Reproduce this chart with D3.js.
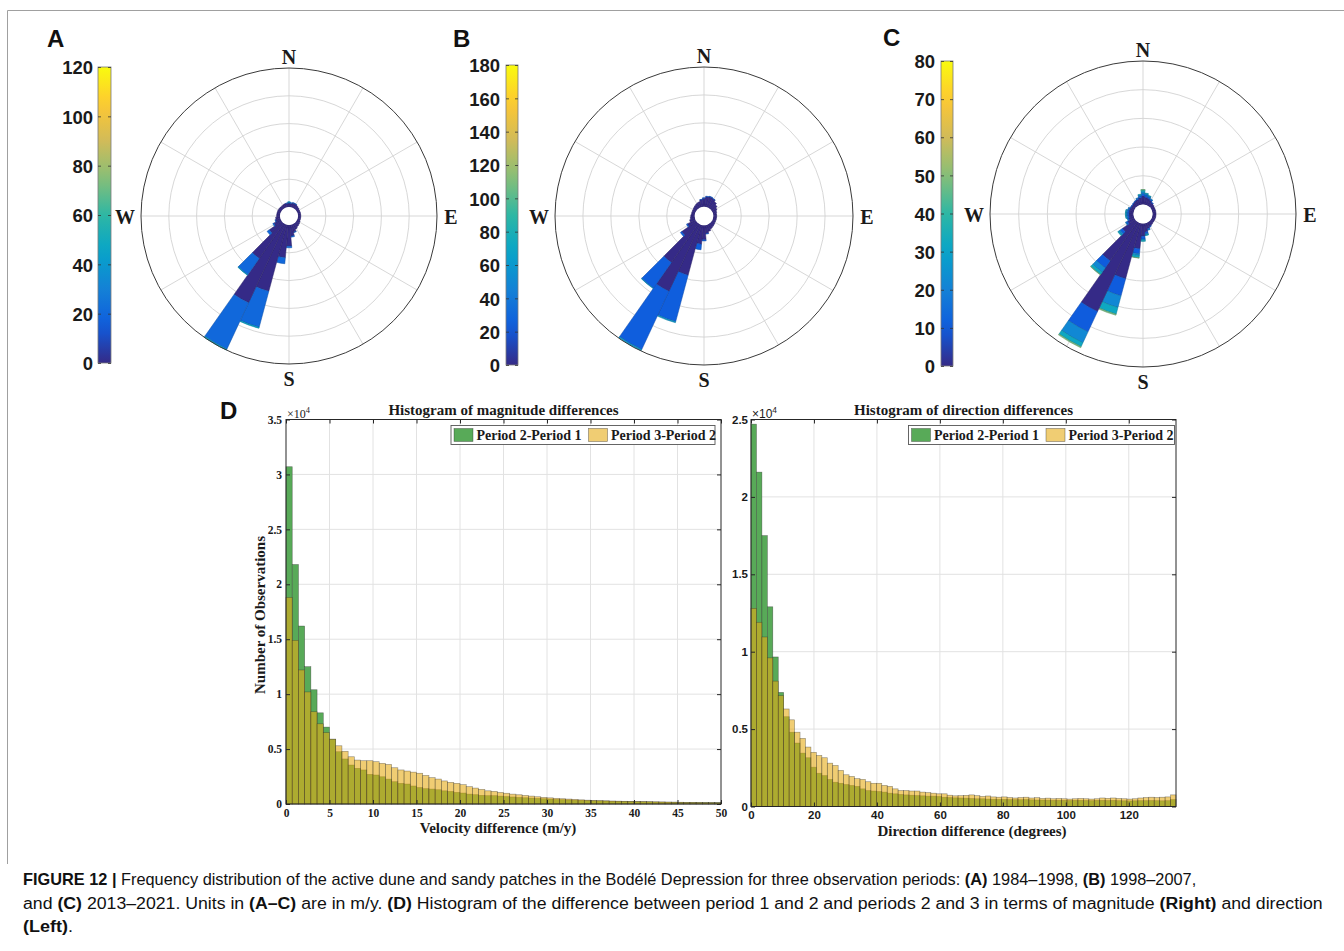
<!DOCTYPE html>
<html><head><meta charset="utf-8">
<script src="https://cdn.jsdelivr.net/npm/d3@7"></script>
<style>body{margin:0;background:#fff}svg{display:block}</style>
</head><body>
<svg id="fig" width="1344" height="951"></svg>
<script>
// ---------------- DATA ----------------
const directions = [0,10,20,30,40,50,60,70,80,90,100,110,120,130,140,150,160,170,180,190,200,210,220,230,240,250,260,270,280,290,300,310,320,330,340,350];
const spokeAngles = [0,30,60,90,120,150,180,210,240,270,300,330];
const ringValues = [5,10,15,20];

// rose A (1984–1998): stacked frequency per speed class
const roseA_navy = [0.7,0.7,0.8,0.8,0.7,0.6,0.5,0.5,0.5,0.5,0.5,0.5,0.6,0.7,0.8,1.0,1.4,2.0,3.8,5.9,12.4,15.6,7.7,2.7,1.4,0.9,0.8,0.6,0.6,0.6,0.6,0.6,0.6,0.6,0.7,0.7];
const roseA_blue = [0.15,0.1,0.1,0.05,0,0,0,0,0,0,0,0,0,0,0,0,0.1,0.2,0.3,1.1,6.7,9.2,3.6,0.5,0.2,0.1,0,0,0,0,0,0,0,0,0,0.05];
const roseA_teal = [0.1,0,0,0,0,0,0,0,0,0,0,0,0,0,0,0,0,0,0,0,0.2,0.2,0.1,0,0,0,0,0,0,0,0,0,0,0,0,0];
const speedA = [0,20,45];
const cbTicksA = [0,20,40,60,80,100,120];

// rose B (1998–2007)
const roseB_navy = [1.5,1.8,1.9,1.8,1.5,1.2,0.9,0.7,0.6,0.6,0.6,0.6,0.6,0.7,0.8,0.9,1.2,1.5,2.6,3.4,9.3,13.2,8.5,3.2,1.6,1.0,0.8,0.7,0.6,0.6,0.6,0.7,0.8,0.9,1.0,1.3];
const roseB_blue = [0.1,0.1,0.1,0.05,0,0,0,0,0,0,0,0,0,0,0,0,0,0.1,0.2,1.0,8.6,11.5,5.6,0.3,0.2,0,0,0,0,0,0,0,0,0,0,0.05];
const roseB_teal = [0,0,0,0,0,0,0,0,0,0,0,0,0,0,0,0,0,0,0,0,0.2,0.25,0.1,0,0,0,0,0,0,0,0,0,0,0,0,0];
const speedB = [0,24,60];
const cbTicksB = [0,20,40,60,80,100,120,140,160,180];

// rose C (2013–2021)
const roseC_navy = [1.5,1.3,1.2,1.0,0.8,0.7,0.6,0.6,0.6,0.6,0.6,0.6,0.6,0.6,0.7,0.8,1.0,1.5,2.2,4.4,10.0,17.1,8.3,2.7,1.3,0.9,0.8,0.8,0.8,0.8,0.7,0.7,0.8,0.9,1.0,1.2];
const roseC_blue = [0.4,0.4,0.3,0.2,0.1,0,0,0,0,0,0,0,0,0,0,0.1,0.2,0.3,0.5,0.9,3.1,3.9,1.5,0.5,0.3,0.2,0.3,0.3,0.3,0.2,0.1,0.1,0.1,0.1,0.2,0.3];
const roseC_lblue = [0.3,0.2,0.1,0.1,0,0,0,0,0,0,0,0,0,0,0,0,0.1,0.2,0.2,0.3,2.1,2.1,0.9,0.3,0.1,0.1,0.2,0.2,0.2,0.1,0,0,0,0,0.1,0.2];
const roseC_teal = [0.3,0.1,0.1,0,0,0,0,0,0,0,0,0,0,0,0,0,0,0.1,0.2,0.4,1.2,0.75,0.5,0.2,0,0,0.1,0.1,0.1,0,0,0,0,0,0,0.1];
const roseC_green = [0.1,0,0,0,0,0,0,0,0,0,0,0,0,0,0,0,0,0,0,0.05,0.2,0.2,0.1,0,0,0,0,0,0,0,0,0,0,0,0,0];
const speedC = [0,10,22,32,48];
const cbTicksC = [0,10,20,30,40,50,60,70,80];

// histogram of magnitude differences (x10^4 observations), 70 bins over 0–50 m/y
const magP21 = [3.07,2.18,1.62,1.25,1.04,0.83,0.70,0.59,0.476,0.41,0.355,0.325,0.31,0.27,0.264,0.248,0.227,0.203,0.188,0.182,0.164,0.15,0.14,0.136,0.13,0.12,0.115,0.106,0.10,0.09,0.085,0.079,0.076,0.076,0.072,0.068,0.064,0.06,0.057,0.054,0.051,0.048,0.045,0.042,0.04,0.037,0.035,0.033,0.031,0.029,0.028,0.027,0.025,0.024,0.023,0.022,0.021,0.02,0.019,0.018,0.017,0.016,0.016,0.015,0.014,0.014,0.013,0.013,0.012,0.012];
const magP32 = [1.88,1.49,1.22,1.02,0.84,0.73,0.65,0.59,0.53,0.48,0.43,0.40,0.394,0.394,0.385,0.37,0.36,0.33,0.31,0.30,0.29,0.28,0.26,0.24,0.227,0.21,0.197,0.188,0.176,0.158,0.145,0.133,0.12,0.115,0.105,0.098,0.09,0.084,0.078,0.072,0.066,0.06,0.056,0.052,0.048,0.045,0.042,0.038,0.035,0.033,0.031,0.029,0.027,0.026,0.025,0.024,0.023,0.022,0.021,0.02,0.019,0.018,0.017,0.016,0.015,0.015,0.014,0.013,0.013,0.012];
const magXTicks = [0,5,10,15,20,25,30,35,40,45,50];
const magYTicks = [0,0.5,1,1.5,2,2.5,3,3.5];

// histogram of direction differences (x10^4 observations), 78 bins over 0–135 degrees
const dirP21 = [2.47,2.16,1.75,1.29,0.966,0.737,0.58,0.48,0.41,0.345,0.315,0.254,0.215,0.20,0.175,0.157,0.15,0.142,0.136,0.13,0.114,0.103,0.10,0.097,0.093,0.086,0.082,0.078,0.075,0.073,0.071,0.069,0.067,0.067,0.065,0.06,0.058,0.056,0.055,0.054,0.052,0.05,0.05,0.048,0.047,0.046,0.046,0.045,0.044,0.044,0.045,0.043,0.042,0.042,0.041,0.04,0.04,0.04,0.039,0.04,0.04,0.039,0.038,0.04,0.04,0.039,0.04,0.038,0.037,0.036,0.037,0.038,0.038,0.039,0.038,0.037,0.038,0.045];
const dirP32 = [1.28,1.19,1.095,0.96,0.81,0.716,0.63,0.56,0.48,0.44,0.384,0.35,0.33,0.315,0.28,0.265,0.233,0.205,0.194,0.18,0.175,0.16,0.15,0.15,0.136,0.13,0.114,0.103,0.103,0.10,0.10,0.093,0.09,0.086,0.082,0.082,0.073,0.069,0.07,0.072,0.075,0.07,0.065,0.068,0.062,0.06,0.062,0.058,0.055,0.058,0.06,0.055,0.057,0.052,0.054,0.05,0.052,0.05,0.048,0.05,0.052,0.05,0.048,0.05,0.055,0.053,0.055,0.052,0.05,0.048,0.05,0.055,0.058,0.06,0.058,0.06,0.062,0.075];
const dirXTicks = [0,20,40,60,80,100,120];
const dirYTicks = [0,0.5,1,1.5,2,2.5];

const legendLabels = ["Period 2-Period 1","Period 3-Period 2"];

// ---------------- STYLE ----------------
const SERIF = "'Liberation Serif','Times New Roman',Times,serif";
const SANS = "'Liberation Sans',Arial,Helvetica,sans-serif";
const INK = "#1a1a1a";
const GREEN = "#58aa58";
const YELLOW = "#e6ac16";
const YEL_OP = 0.6;
const EDGE = "#2a2a2a";
const parulaStops = ["#352a87","#0f5cdd","#1481d6","#06a4ca","#2eb7a4","#87bf77","#d1bb59","#fec832","#f9fb0e"];
const parula = d3.piecewise(d3.interpolateRgb, parulaStops);

const svg = d3.select("#fig");
const defs = svg.append("defs");

// figure frame
svg.append("path").attr("d","M1344,10.5H7.5V864").attr("fill","none").attr("stroke","#a0a0a0").attr("stroke-width",1);

// ---------------- ROSES ----------------
function drawRose(p){
  const g = svg.append("g").attr("transform",`translate(${p.cx},${p.cy})`);
  const r = d3.scaleLinear().domain([0,25]).range([p.r0,p.R]);
  g.selectAll("circle.ring").data(ringValues).join("circle").attr("class","ring")
    .attr("r",d=>r(d)).attr("fill","none").attr("stroke","#d2d2d2").attr("stroke-width",0.9);
  g.selectAll("line.spoke").data(spokeAngles).join("line").attr("class","spoke")
    .attr("x1",d=>p.r0*Math.sin(d*Math.PI/180)).attr("y1",d=>-p.r0*Math.cos(d*Math.PI/180))
    .attr("x2",d=>p.R*Math.sin(d*Math.PI/180)).attr("y2",d=>-p.R*Math.cos(d*Math.PI/180))
    .attr("stroke","#d2d2d2").attr("stroke-width",0.9);
  const color = d3.scaleSequential(parula).domain([0,p.max]);
  const arc = d3.arc();
  directions.forEach((dir,i)=>{
    let cum = 0;
    p.classes.forEach((arr,k)=>{
      const v = arr[i];
      if(!v) return;
      const c = color(p.speeds[k]);
      g.append("path").attr("d",arc({innerRadius:r(cum),outerRadius:r(cum+v),
          startAngle:(dir-5)*Math.PI/180,endAngle:(dir+5)*Math.PI/180}))
        .attr("fill",c).attr("stroke",d3.color(c).darker(0.8)).attr("stroke-width",0.5);
      cum += v;
    });
  });
  g.append("circle").attr("r",p.r0).attr("fill","#fff");
  g.append("circle").attr("r",p.R).attr("fill","none").attr("stroke","#3a3a3a").attr("stroke-width",1);
  const lab = (t,x,y)=>g.append("text").text(t).attr("x",x).attr("y",y).attr("text-anchor","middle")
      .attr("font-family",SERIF).attr("font-weight","bold").attr("font-size",20).attr("fill",INK);
  lab("N",0,-p.R-4); lab("S",0,p.R+21.5); lab("W",-p.R-16,8); lab("E",p.R+14,8);
}

function drawColorbar(x,y,w,h,max,ticks,labelRight,id){
  const grad = defs.append("linearGradient").attr("id",id).attr("x1",0).attr("y1",1).attr("x2",0).attr("y2",0);
  d3.range(0,21).forEach(i=>grad.append("stop").attr("offset",i/20).attr("stop-color",parula(i/20)));
  svg.append("rect").attr("x",x).attr("y",y).attr("width",w).attr("height",h)
    .attr("fill",`url(#${id})`).attr("stroke","#7a7a7a").attr("stroke-width",0.8);
  const s = d3.scaleLinear().domain([0,max]).range([y+h,y]);
  const gl = svg.append("g").attr("transform",`translate(${x},0)`)
    .call(d3.axisLeft(s).tickValues(ticks).tickSize(-3).tickPadding(x-labelRight).tickFormat(d=>d));
  const gr = svg.append("g").attr("transform",`translate(${x+w},0)`)
    .call(d3.axisRight(s).tickValues(ticks).tickSize(-3).tickFormat(""));
  [gl,gr].forEach(a=>{a.select(".domain").remove(); a.selectAll(".tick line").attr("stroke","#333").attr("stroke-width",0.8);});
  gl.selectAll("text").attr("font-family",SANS).attr("font-weight","bold").attr("font-size",18.5).attr("fill",INK).attr("dy","0.36em");
}

const panelLabel = (t,x,y)=>svg.append("text").text(t).attr("x",x).attr("y",y)
  .attr("font-family",SANS).attr("font-weight","bold").attr("font-size",24).attr("fill","#111");

drawRose({cx:289,cy:216,R:148,r0:9,max:120,classes:[roseA_navy,roseA_blue,roseA_teal],speeds:speedA});
drawRose({cx:704,cy:216,R:149,r0:9.3,max:180,classes:[roseB_navy,roseB_blue,roseB_teal],speeds:speedB});
drawRose({cx:1143,cy:214,R:153,r0:9.6,max:80,classes:[roseC_navy,roseC_blue,roseC_lblue,roseC_teal,roseC_green],speeds:speedC});
drawColorbar(98,67,13,296,120,cbTicksA,93,"cbA");
drawColorbar(506,65,12,300,180,cbTicksB,500,"cbB");
drawColorbar(941,61,12,305,80,cbTicksC,935,"cbC");
panelLabel("A",47,47); panelLabel("B",453,47); panelLabel("C",883,46); panelLabel("D",220,419);

// ---------------- HISTOGRAMS ----------------
function drawHist(h){
  const x = d3.scaleLinear().domain([0,h.xmax]).range([h.x0,h.x1]);
  const y = d3.scaleLinear().domain([0,h.ymax]).range([h.y1,h.y0]);
  const g = svg.append("g");
  g.selectAll("line.gx").data(h.xTicks.filter(t=>t>0&&t<h.xmax)).join("line").attr("class","gx")
    .attr("x1",d=>x(d)).attr("x2",d=>x(d)).attr("y1",h.y0).attr("y2",h.y1).attr("stroke","#e2e2e2").attr("stroke-width",1);
  g.selectAll("line.gy").data(h.yTicks.filter(t=>t>0&&t<h.ymax)).join("line").attr("class","gy")
    .attr("y1",d=>y(d)).attr("y2",d=>y(d)).attr("x1",h.x0).attr("x2",h.x1).attr("stroke","#e2e2e2").attr("stroke-width",1);
  const bars = arr=>arr.map((v,i)=>({a:i*h.binw,b:(i+1)*h.binw,v}));
  g.selectAll("rect.b21").data(bars(h.d21)).join("rect").attr("class","b21")
    .attr("x",d=>x(d.a)).attr("width",d=>x(d.b)-x(d.a)).attr("y",d=>y(d.v)).attr("height",d=>y(0)-y(d.v))
    .attr("fill",GREEN).attr("stroke",EDGE).attr("stroke-opacity",0.55).attr("stroke-width",0.6);
  g.selectAll("rect.b32").data(bars(h.d32)).join("rect").attr("class","b32")
    .attr("x",d=>x(d.a)).attr("width",d=>x(d.b)-x(d.a)).attr("y",d=>y(d.v)).attr("height",d=>y(0)-y(d.v))
    .attr("fill",YELLOW).attr("fill-opacity",YEL_OP).attr("stroke",EDGE).attr("stroke-opacity",0.5).attr("stroke-width",0.6);
  g.append("rect").attr("x",h.x0).attr("y",h.y0).attr("width",h.x1-h.x0).attr("height",h.y1-h.y0)
    .attr("fill","none").attr("stroke","#262626").attr("stroke-width",1);
  const fmt = d=>String(d);
  const aB = g.append("g").attr("transform",`translate(0,${h.y1})`).call(d3.axisBottom(x).tickValues(h.xTicks).tickSize(-4).tickPadding(h.xPad).tickFormat(fmt));
  const aT = g.append("g").attr("transform",`translate(0,${h.y0})`).call(d3.axisTop(x).tickValues(h.xTicks).tickSize(-4).tickFormat(""));
  const aL = g.append("g").attr("transform",`translate(${h.x0},0)`).call(d3.axisLeft(y).tickValues(h.yTicks).tickSize(-4).tickPadding(h.yPad).tickFormat(fmt));
  const aR = g.append("g").attr("transform",`translate(${h.x1},0)`).call(d3.axisRight(y).tickValues(h.yTicks).tickSize(-4).tickFormat(""));
  [aB,aT,aL,aR].forEach(a=>{a.select(".domain").remove(); a.selectAll(".tick line").attr("stroke","#262626");});
  [aB,aL].forEach(a=>a.selectAll("text").attr("font-family",h.tickFont).attr("font-weight","bold").attr("font-size",h.tickSize).attr("fill",INK));
  // exponent
  const ex = g.append("text").attr("x",h.x0+1).attr("y",h.y0-2).attr("font-family",h.tickFont).attr("font-size",h.expSize).attr("fill",INK);
  ex.append("tspan").text("×10");
  ex.append("tspan").text("4").attr("dy",-5).attr("font-size",h.expSize*0.7);
  // title
  g.append("text").text(h.title).attr("x",(h.x0+h.x1)/2).attr("y",h.y0-5).attr("text-anchor","middle")
    .attr("font-family",SERIF).attr("font-weight","bold").attr("font-size",15).attr("fill",INK);
  // x label
  g.append("text").text(h.xLabel).attr("x",h.xLabX).attr("y",h.xLabY).attr("text-anchor","middle")
    .attr("font-family",SERIF).attr("font-weight","bold").attr("font-size",15).attr("fill",INK);
  // legend
  const L = g.append("g").attr("transform",`translate(${h.legX},${h.legY})`);
  L.append("rect").attr("width",h.legW).attr("height",19).attr("fill","#fff").attr("stroke","#555").attr("stroke-width",0.9);
  [0,1].forEach(i=>{
    const ox = 3 + i*134.5;
    const sw = L.append("rect").attr("x",ox).attr("y",3).attr("width",19).attr("height",13)
      .attr("stroke",EDGE).attr("stroke-opacity",0.6).attr("stroke-width",0.6);
    if(i===0) sw.attr("fill",GREEN); else sw.attr("fill",YELLOW).attr("fill-opacity",YEL_OP);
    L.append("text").text(legendLabels[i]).attr("x",ox+22.5).attr("y",14.5)
      .attr("font-family",SERIF).attr("font-weight","bold").attr("font-size",14).attr("fill",INK);
  });
}

drawHist({x0:286,x1:721,y0:419.5,y1:804,xmax:50,ymax:3.5,binw:50/70,d21:magP21,d32:magP32,
  xTicks:magXTicks,yTicks:magYTicks,tickFont:SERIF,tickSize:11.5,xPad:5,yPad:4,expSize:12,
  title:"Histogram of magnitude differences",xLabel:"Velocity difference (m/y)",xLabX:498,xLabY:833,
  legX:451,legY:425.5,legW:264});
drawHist({x0:751,x1:1176,y0:419.5,y1:806.5,xmax:135,ymax:2.5,binw:135/78,d21:dirP21,d32:dirP32,
  xTicks:dirXTicks,yTicks:dirYTicks,tickFont:SANS,tickSize:11.5,xPad:4,yPad:3,expSize:12,
  title:"Histogram of direction differences",xLabel:"Direction difference (degrees)",xLabX:972,xLabY:836,
  legX:908.5,legY:425.5,legW:266});

// y label
svg.append("text").text("Number of Observations").attr("transform","translate(265,615) rotate(-90)")
  .attr("text-anchor","middle").attr("font-family",SERIF).attr("font-weight","bold").attr("font-size",15).attr("fill",INK);

// ---------------- CAPTION ----------------
const captionLines = [
  {y:885, w:1174, parts:[["FIGURE 12 | ",1],["Frequency distribution of the active dune and sandy patches in the Bodélé Depression for three observation periods: ",0],["(A)",1],[" 1984–1998, ",0],["(B)",1],[" 1998–2007,",0]]},
  {y:909, w:1300, parts:[["and ",0],["(C)",1],[" 2013–2021. Units in ",0],["(A–C)",1],[" are in m/y. ",0],["(D)",1],[" Histogram of the difference between period 1 and 2 and periods 2 and 3 in terms of magnitude ",0],["(Right)",1],[" and direction",0]]},
  {y:932, w:50, parts:[["(Left)",1],[".",0]]}
];
captionLines.forEach(line=>{
  const t = svg.append("text").attr("x",0).attr("y",0)
    .attr("font-family","'Liberation Sans Narrow','Liberation Sans',Arial,sans-serif").attr("font-size",16).attr("fill","#111");
  line.parts.forEach(([s,b])=>t.append("tspan").text(s).attr("font-weight",b?"bold":"normal"));
  const w = t.node().getComputedTextLength();
  t.attr("transform",`translate(23,${line.y}) scale(${line.w/w},1)`);
});
</script>
</body></html>
